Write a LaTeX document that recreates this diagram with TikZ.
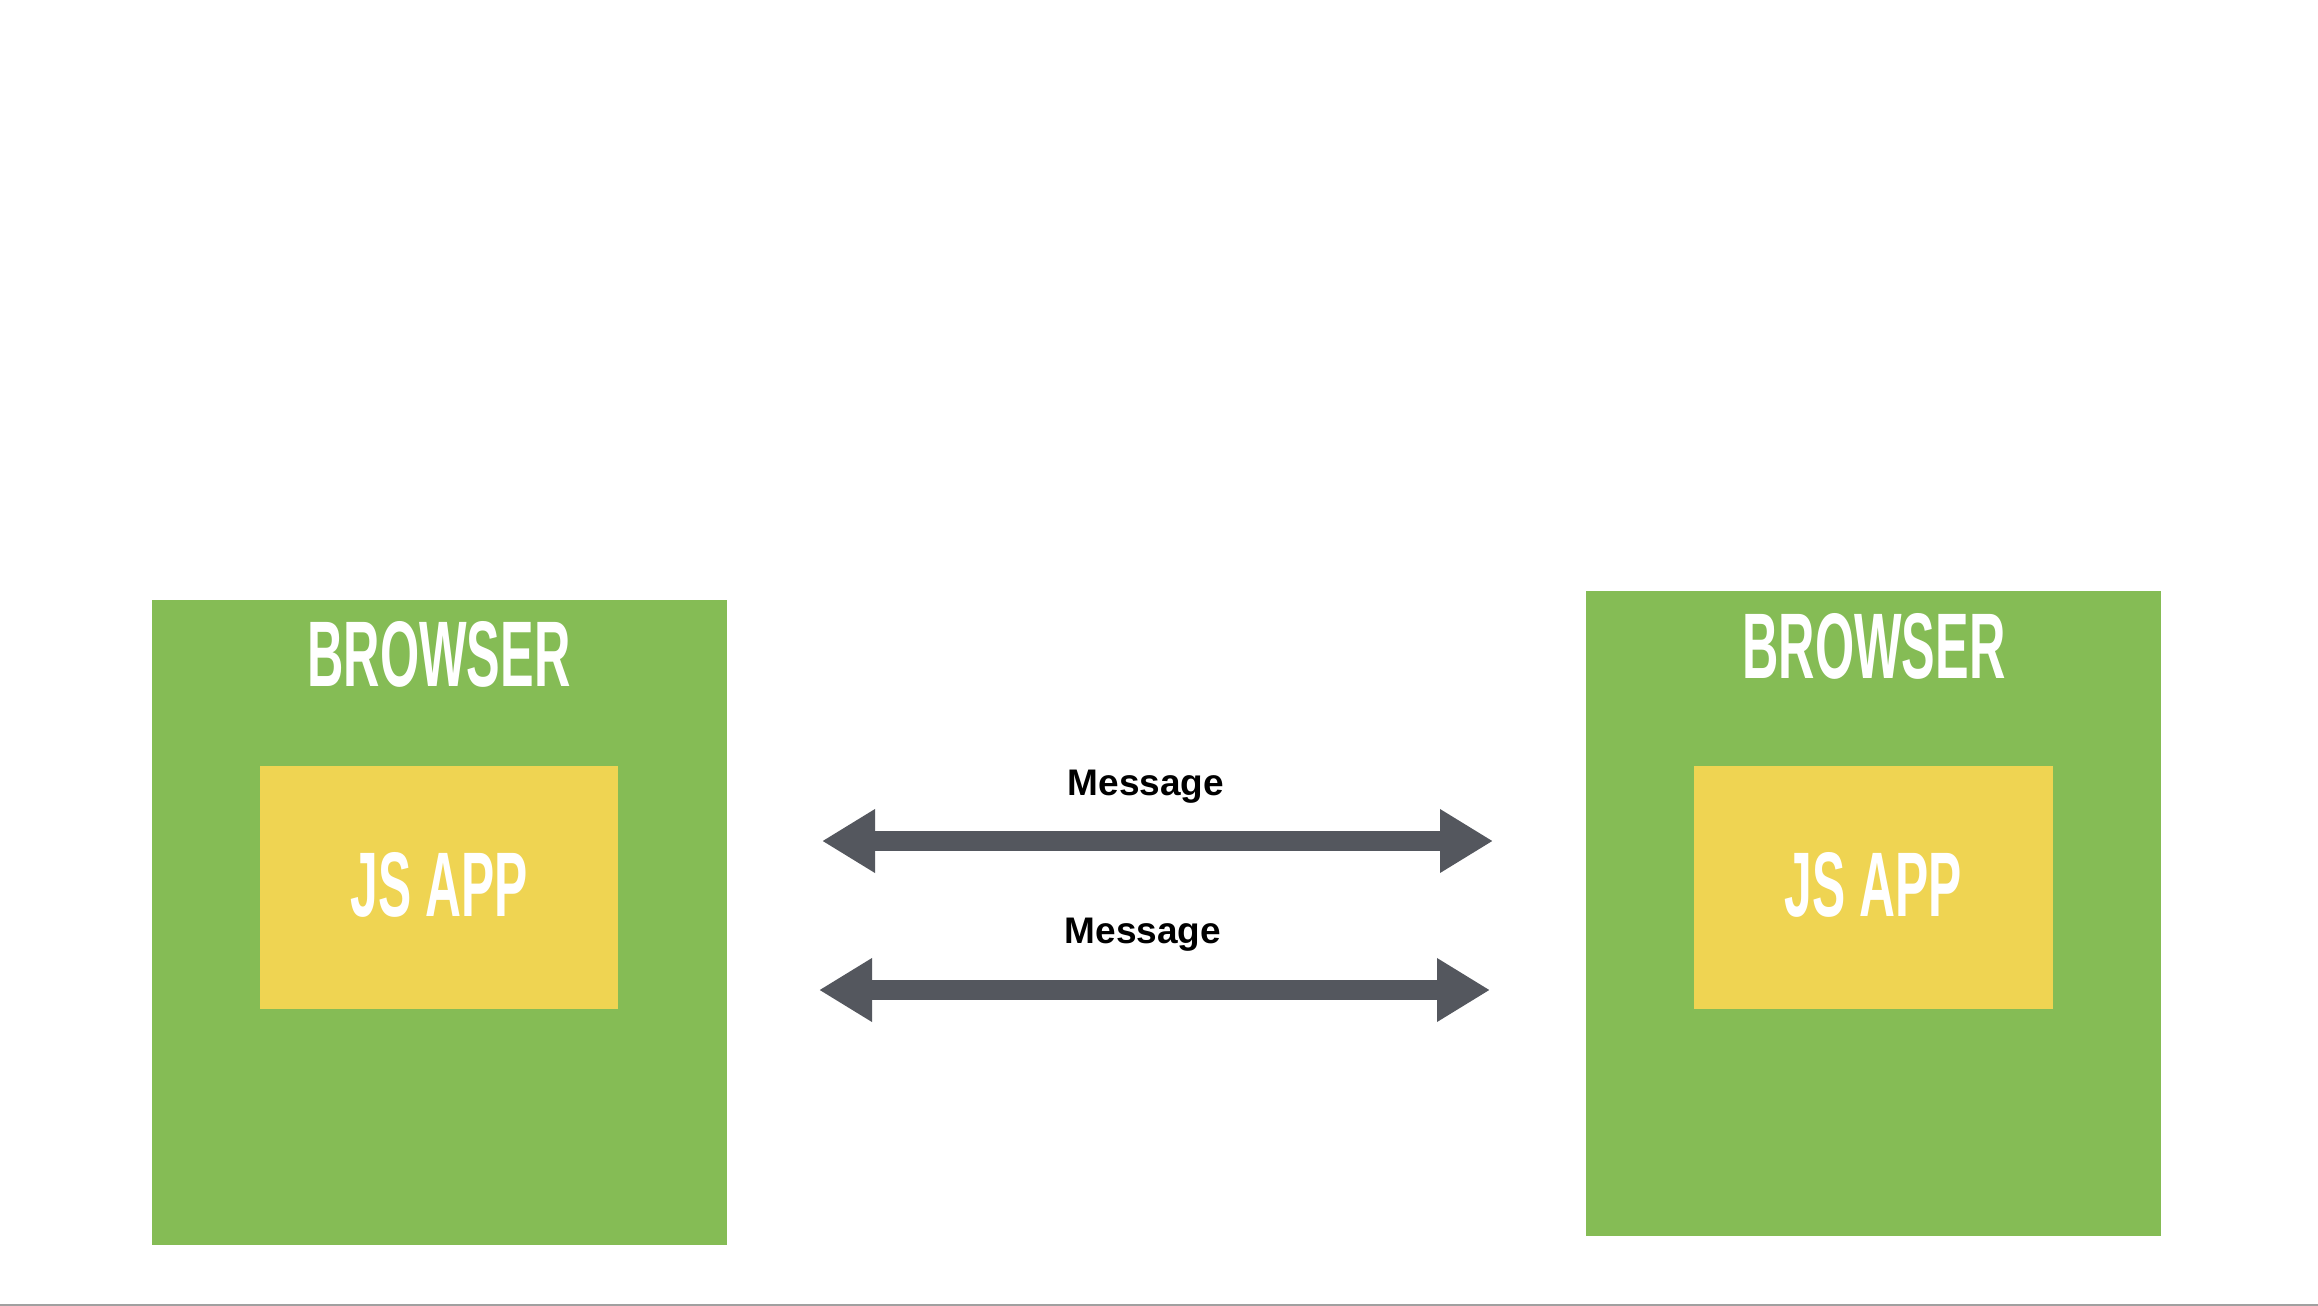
\documentclass[tikz,border=0pt]{standalone}
\usepackage{fontspec}
\setmainfont{Liberation Sans}
\usetikzlibrary{arrows.meta}
\definecolor{browsergreen}{HTML}{85BC55}
\definecolor{appyellow}{HTML}{EFD452}
\definecolor{arrowgray}{HTML}{54575E}
\definecolor{rulegray}{HTML}{A0A0A0}
\tikzset{
  browserbox/.style={fill=browsergreen, draw=none, inner sep=0pt, outer sep=0pt, minimum width=575pt, minimum height=645pt},
  appbox/.style={fill=appyellow, draw=none, inner sep=0pt, outer sep=0pt, minimum width=358pt, minimum height=243pt},
  bigtitle/.style={text=white, inner sep=0pt, outer sep=0pt},
  msglabel/.style={anchor=base, inner sep=0pt, font=\fontsize{37}{40}\selectfont\bfseries},
  msgarrow/.style={draw=arrowgray, line width=20pt,
    {Triangle[length=53pt,width=60pt]}-{Triangle[length=53pt,width=60pt]}}
}
\begin{document}
\begin{tikzpicture}[x=1pt,y=-1pt]
\useasboundingbox (0,0) rectangle (2318,1306);
\fill[white] (0,0) rectangle (2318,1306);
% browsers
\node[browserbox] (b1) at (439,922.5) {};
\node[browserbox] (b2) at (1873.5,913.5) {};
\node[appbox] (app1) at (439,887.5) {};
\node[appbox, minimum width=359pt] (app2) at (1873.5,887.5) {};
\node[bigtitle] (t1) at (439,654.5) {\resizebox{263pt}{65pt}{\bfseries BROWSER}};
\node[bigtitle] (t2) at (1874,646.5) {\resizebox{263pt}{65pt}{\bfseries BROWSER}};
\node[bigtitle] (j1) at (439,885) {\resizebox{177pt}{64pt}{\bfseries JS APP}};
\node[bigtitle] (j2) at (1873,884.5) {\resizebox{177pt}{64pt}{\bfseries JS APP}};
% arrows
\coordinate (a1l) at (822,841);
\coordinate (a1r) at (1493,841);
\coordinate (a2l) at (819,990);
\coordinate (a2r) at (1490,990);
\draw[msgarrow] (a1l) -- (a1r);
\draw[msgarrow] (a2l) -- (a2r);
\node[msglabel] (m1) at (1146,795) {Message};
\node[msglabel] (m2) at (1143,943) {Message};
% bottom rule
\coordinate (rl) at (0,1304.8);
\coordinate (rr) at (2318,1304.8);
\draw[rulegray, line width=2.5pt] (rl) -- (rr);
\end{tikzpicture}
\end{document}
